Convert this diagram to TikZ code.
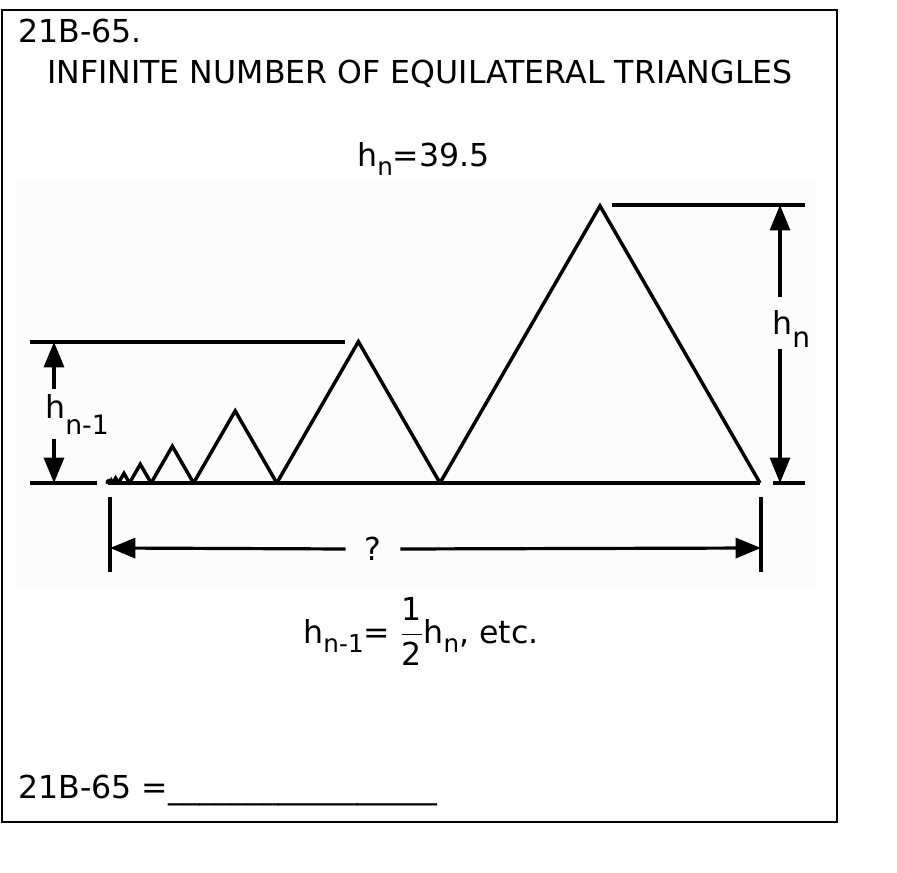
\documentclass[tikz,border=0pt]{standalone}
\usepackage{fontspec}
\setmainfont{DejaVu Sans}
\usetikzlibrary{calc,arrows.meta,positioning}
\newcommand{\lowsub}[2][0.27em]{\raisebox{-#1}{\fontsize{18.5}{18.5}\selectfont #2}}
\tikzset{
  tri/.style={line width=2.6pt},
  dim/.style={line width=2.4pt},
  dimarrow/.style={dim, -{Triangle[length=19pt,width=15pt]}},
  lbl/.style={inner sep=0pt, font=\fontsize{23.7}{28}\selectfont}
}

\begin{document}
\begin{tikzpicture}[x=0.75pt, y=-0.75pt]
        \useasboundingbox (0,0) rectangle (897,873);
        \fill[white] (0,0) rectangle (897,873);
        \fill[black!1] (15,180) rectangle (815,590);
        \draw[line width=1.5pt] (2,10) rectangle (837,822);

        \node[lbl, anchor=base west, name=number] at (18,43) {21B-65.};
        \node[lbl, anchor=base, name=title] at (420,84) {INFINITE NUMBER OF EQUILATERAL TRIANGLES};
        \node[lbl, anchor=base west, name=given] at (357,167) {h\lowsub[0.27em]{n}=39.5};

        % triangles, each one 0.51 of the next
        \foreach \k in {0,...,12} {
          \pgfmathsetmacro\b{320*0.51^\k}
          \pgfmathsetmacro\xr{760-320*(1-0.51^\k)/0.49}
          \draw[tri] (\xr,483) -- ++(-\b/2,-\b*0.866) -- ++(-\b/2,\b*0.866);
        }
        \draw[tri] (108,483) -- (760,483);

        % left dimension
        \coordinate (lefttop) at (54,342);
        \coordinate (leftbot) at (54,483);
        \draw[dim] (30,342) -- (345,342);
        \draw[dim] (30,483) -- (97,483);
        \node[lbl, anchor=base west, name=hprev] at (45,419) {h\lowsub[0.5em]{\fontsize{20}{20}\selectfont n-1}};
        \draw[dimarrow] ([yshift=4pt]hprev.north -| lefttop) -- (lefttop);
        \draw[dimarrow] ([yshift=-3pt]hprev.south -| leftbot) -- (leftbot);

        % right dimension
        \coordinate (righttop) at (780,205);
        \coordinate (rightbot) at (780,483);
        \draw[dim] (612,205) -- (805,205);
        \draw[dim] (773,483) -- (805,483);
        \node[lbl, anchor=base west, name=hlast] at (772,335) {h\lowsub[0.4em]{\fontsize{21}{21}\selectfont n}};
        \draw[dimarrow] ([yshift=10pt]hlast.north -| righttop) -- (righttop);
        \draw[dimarrow] ([yshift=-1pt]hlast.south -| rightbot) -- (rightbot);

        % total length
        \coordinate (lenleft) at (110,548);
        \coordinate (lenright) at (761,548);
        \draw[dim] (110,497) -- (110,572);
        \draw[dim] (761,497) -- (761,572);
        \node[lbl, inner xsep=14pt, name=length] at (373,549) {?};
        \draw[dimarrow] (length.west) -- (lenleft);
        \draw[dimarrow] (length.east) -- (lenright);

        \node[lbl, anchor=base, name=ratio] at (421,643)
          {h\lowsub[0.3em]{n-1}= $\displaystyle\frac{\mbox{1}}{\mbox{2}}$h\lowsub[0.3em]{n}, etc.};

        \node[lbl, anchor=base west, name=answer] at (18,798)
          {21B-65 =\_\_\_\_\_\_\_\_\_\_\_\_\_\_\_\_\_};
    \end{tikzpicture}
\end{document}
